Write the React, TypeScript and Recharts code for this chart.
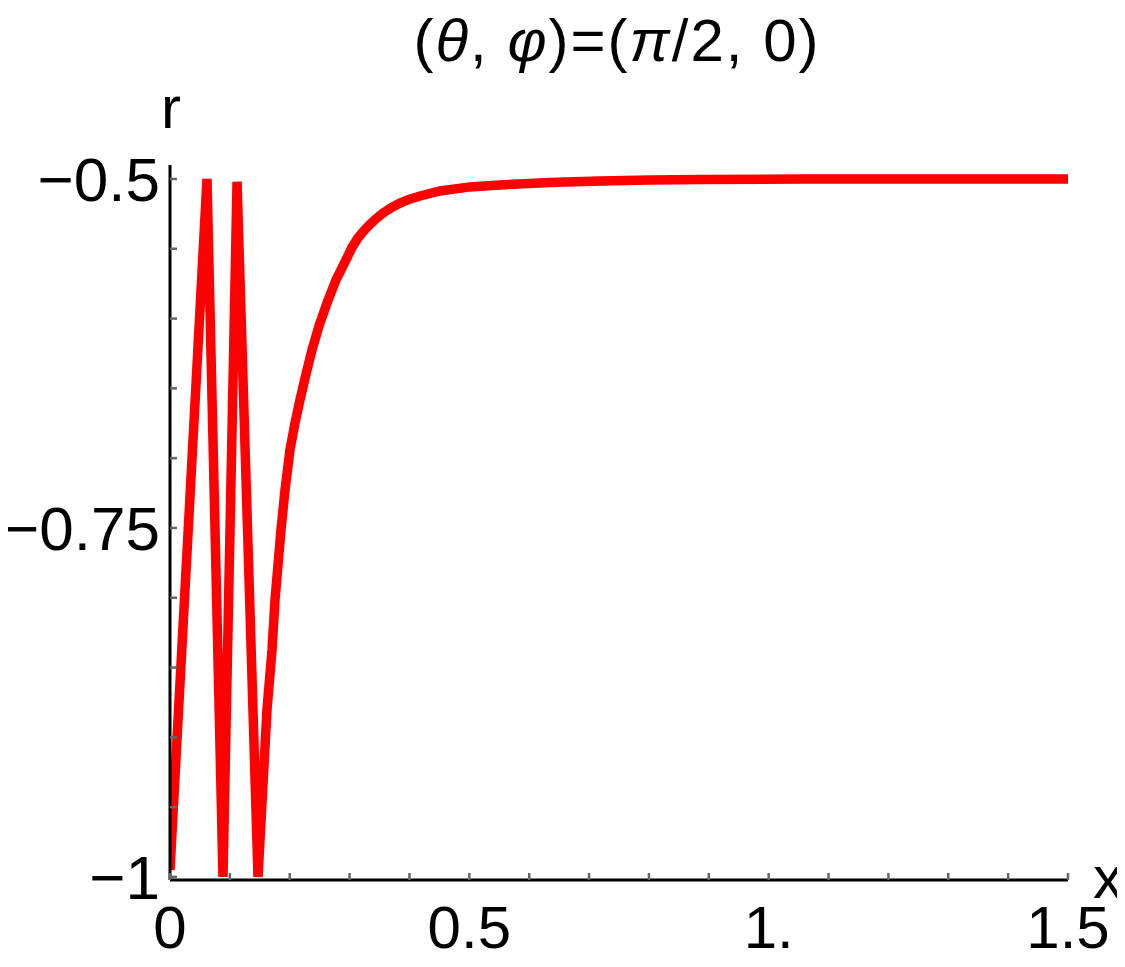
import React from 'react';
import { LineChart, Line, XAxis, YAxis } from 'recharts';

const xs = [
  0, 0.0618, 0.0885, 0.112, 0.147, 0.162, 0.1704, 0.1754, 0.1804, 0.1854, 0.1921, 0.2004, 0.2088,
  0.2171, 0.2272, 0.2372, 0.2489, 0.2623, 0.2773, 0.2956, 0.3040, 0.314, 0.3240, 0.3341, 0.3450,
  0.3558, 0.3700, 0.3842, 0.4000, 0.4176, 0.451, 0.5011, 0.5512, 0.6347, 0.7182, 0.8017, 0.8852,
  1.0523, 1.5,
];
const rs = [
  -0.995, -0.5, -1.0, -0.502, -1.0, -0.8803, -0.8373, -0.8015, -0.7765, -0.7514, -0.7228, -0.6941,
  -0.6748, -0.6583, -0.6397, -0.6225, -0.6053, -0.5888, -0.5723, -0.5565, -0.5490, -0.5422,
  -0.5370, -0.5325, -0.5282, -0.5244, -0.5205, -0.5172, -0.5145, -0.5122, -0.5086, -0.5057,
  -0.5043, -0.5025, -0.5014, -0.5007, -0.5004, -0.5, -0.5,
];

const xTicks = [0, 0.1, 0.2, 0.3, 0.4, 0.5, 0.6, 0.7, 0.8, 0.9, 1.0, 1.1, 1.2, 1.3, 1.4, 1.5];
const xMajor = [0, 0.5, 1, 1.5];
const xMajorLabels = ['0', '0.5', '1.', '1.5'];

const yTicks = [-1, -0.95, -0.9, -0.85, -0.8, -0.75, -0.7, -0.65, -0.6, -0.55, -0.5];
const yMajor = [-1, -0.75, -0.5];
const yMajorLabels = ['\u22121', '\u22120.75', '\u22120.5'];

const data = xs.map((x, i) => ({ x, r: rs[i] }));

const FONT = '"Liberation Sans", Arial, sans-serif';
const FS = 60;

const findLabel = (v: number, majors: number[], labels: string[]) => {
  const i = majors.findIndex((m) => Math.abs(m - v) < 1e-9);
  return i >= 0 ? labels[i] : null;
};

const XTick = ({ x, y, payload }: any) => {
  const label = findLabel(payload.value, xMajor, xMajorLabels);
  return (
    <g>
      <line x1={x} x2={x} y1={y} y2={y - 7} stroke="#666" strokeWidth={2.5} />
      {label && (
        <text x={x} y={y + 68} textAnchor="middle" fontSize={FS} fontFamily={FONT} fill="#000">
          {label}
        </text>
      )}
    </g>
  );
};

const YTick = ({ x, y, payload }: any) => {
  const label = findLabel(payload.value, yMajor, yMajorLabels);
  return (
    <g>
      <line x1={x} x2={x + 7} y1={y} y2={y} stroke="#666" strokeWidth={2.5} />
      {label && (
        <text x={x - 10} y={y + 22} textAnchor="end" fontSize={62} fontFamily={FONT} fill="#000">
          {label}
        </text>
      )}
    </g>
  );
};

export default function App() {
  return (
    <div style={{ position: 'relative', width: 1125, height: 967, margin: -8, background: '#fff' }}>
      <LineChart width={1125} height={967} data={data} margin={{ top: 165, right: 57, left: 0, bottom: 0 }}>
        <XAxis
          dataKey="x"
          type="number"
          domain={[0, 1.5]}
          ticks={xTicks}
          interval={0}
          allowDataOverflow
          height={87}
          tickSize={0}
          tickMargin={0}
          tickLine={false}
          axisLine={{ stroke: '#000', strokeWidth: 3 }}
          tick={<XTick />}
        />
        <YAxis
          type="number"
          domain={[-1.0022, -0.49]}
          ticks={yTicks}
          interval={0}
          allowDataOverflow
          width={170}
          tickSize={0}
          tickMargin={0}
          tickLine={false}
          axisLine={{ stroke: '#000', strokeWidth: 3 }}
          tick={<YTick />}
        />
        <Line
          type="linear"
          dataKey="r"
          stroke="#ff0000"
          strokeWidth={9.5}
          dot={false}
          activeDot={false}
          isAnimationActive={false}
        />
        <text x={617} y={61} textAnchor="middle" fontSize={60} letterSpacing={2} fontFamily={FONT} fill="#000">
          (<tspan fontStyle="italic">θ</tspan>, <tspan fontStyle="italic">φ</tspan>)=(<tspan fontStyle="italic">π</tspan>/2, 0)
        </text>
        <text x={171} y={128} textAnchor="middle" fontSize={FS} fontFamily={FONT} fill="#000">
          r
        </text>
        <text x={1108} y={898} textAnchor="middle" fontSize={FS} fontFamily={FONT} fill="#000">
          x
        </text>
      </LineChart>
    </div>
  );
}
